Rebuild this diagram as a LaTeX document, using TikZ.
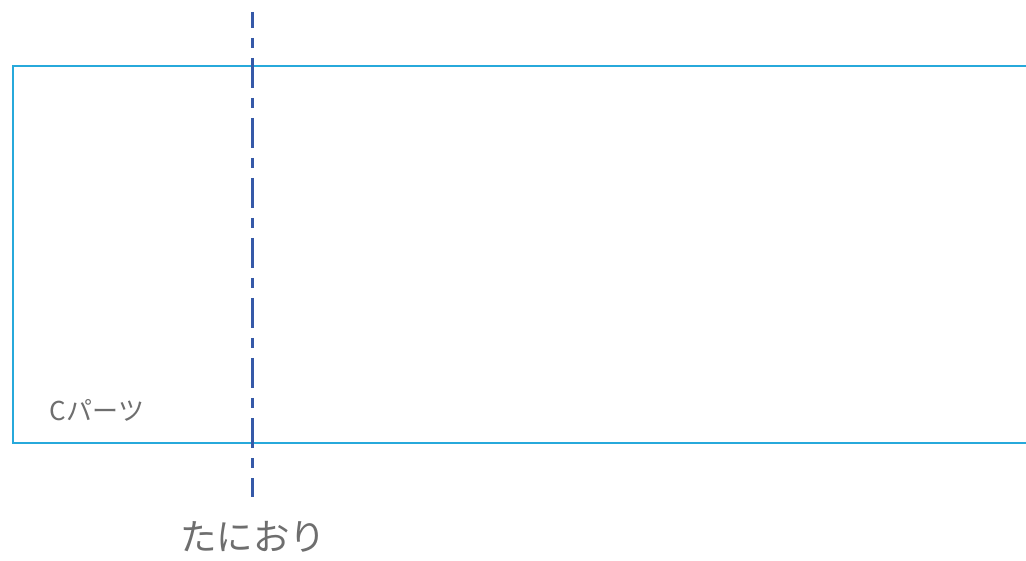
\documentclass[tikz,border=0pt]{standalone}
\usepackage{fontspec}
\setmainfont{Noto Sans CJK JP}
\definecolor{partblue}{HTML}{27A9DB}
\definecolor{foldblue}{HTML}{3559A8}
\definecolor{labelgray}{HTML}{6E6E6E}
\tikzset{
  partline/.style={draw=partblue, line width=2.9pt},
  foldline/.style={draw=foldblue, line width=3pt, dash pattern=on 30pt off 10pt on 10pt off 10pt, dash phase=14pt},
  lbl/.style={text=labelgray, inner sep=0pt}
}
\begin{document}
\begin{tikzpicture}[x=1pt,y=-1pt]
\useasboundingbox (0,0) rectangle (1026,561);
\draw[partline] (1027,66) -- (13,66) -- (13,443) -- (1027,443);
\coordinate (ftop) at (252,12);
\coordinate (fbot) at (252,497);
\draw[foldline] (ftop) -- (fbot);
\node[lbl, font=\fontsize{26}{31}\selectfont] (cpart) at (97,410) {Cパーツ};
\node[lbl, font=\fontsize{36.5}{44}\selectfont] (tani) at (253,537) {たにおり};
\end{tikzpicture}
\end{document}
